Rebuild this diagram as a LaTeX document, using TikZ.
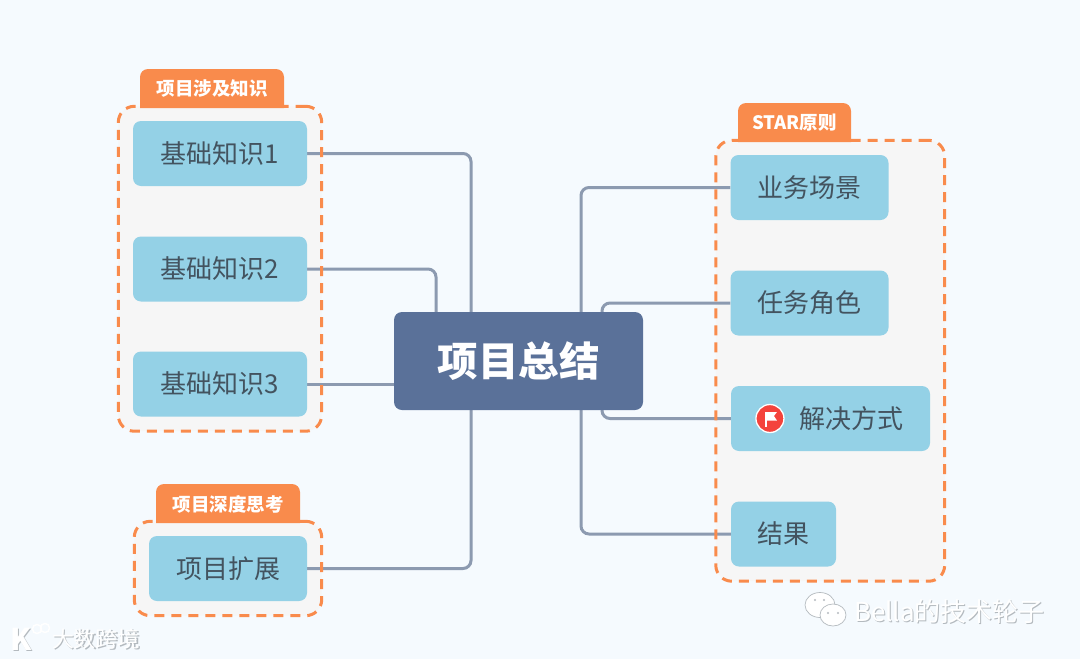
\documentclass[tikz,border=0pt]{standalone}
\usepackage{fontspec}
\setmainfont{Noto Sans CJK SC}
\usetikzlibrary{shapes.geometric, positioning, fit, backgrounds, calc}
\definecolor{pagebg}{HTML}{F5FAFE}
\definecolor{groupbg}{HTML}{F6F6F6}
\definecolor{accent}{HTML}{F98B4C}
\definecolor{topicbg}{HTML}{94D1E6}
\definecolor{topicfg}{HTML}{43535F}
\definecolor{rootbg}{HTML}{5A7199}
\definecolor{linkc}{HTML}{8C9AB0}
\definecolor{flagred}{HTML}{F4433C}
\definecolor{stampc}{HTML}{B4BABF}

\begin{document}
\begin{tikzpicture}[x=1pt, y=-1pt]
\tikzset{
    root/.style={rectangle, fill=rootbg, rounded corners=8pt, minimum width=249pt, minimum height=98pt, inner sep=0pt, text=white, font=\fontsize{40.5}{46}\selectfont\bfseries},
    topic/.style={rectangle, fill=topicbg, rounded corners=8pt, minimum width=174pt, minimum height=65pt, inner sep=0pt, text=topicfg, font=\fontsize{26}{30}\selectfont},
    groupbox/.style={rectangle, fill=groupbg, rounded corners=16pt, inner sep=14.5pt, outer sep=0pt},
    groupline/.style={rectangle, draw=accent, line width=3pt, dash pattern=on 10pt off 7pt, rounded corners=16pt, inner sep=0pt, outer sep=0pt},
    tabtext/.style={rectangle, minimum height=38pt, inner sep=0pt, text=white, font=\fontsize{18.5}{22}\selectfont\bfseries},
    tabfill/.style={fill=accent},
    link/.style={draw=linkc, line width=3pt, rounded corners=8pt},
    flagdot/.style={circle, fill=flagred, draw=white, line width=1.3pt, minimum size=28pt, inner sep=0pt},
    stamp/.style={inner sep=0pt, text=white, font=\fontsize{#1}{30}\selectfont},
    stampback/.style={inner sep=0pt, text=stampc, font=\fontsize{#1}{30}\selectfont},
    bubble/.style={ellipse, fill=white, draw=stampc, line width=0.7pt}
}
\node[root] (Root) at (518.5, 361) {项目总结};
\node[topic] (Know1) at (220, 153.5) {基础知识1};
\node[topic] (Know2) at (220, 269) {基础知识2};
\node[topic] (Know3) at (220, 384) {基础知识3};
\node[topic, minimum width=158pt] (Extend) at (228, 568.5) {项目扩展};
\node[topic, minimum width=158pt] (Scene) at (809.5, 187.5) {业务场景};
\node[topic, minimum width=158pt] (Role) at (809.5, 303) {任务角色};
\node[topic, minimum width=199pt] (Solve) at (830.5, 418.5) {\hspace{41pt}解决方式};
\node[topic, minimum width=105pt] (Outcome) at (783.5, 534) {结果};
\node[flagdot, right=24.5pt of Solve.west] (Flag) {};
\fill[white] ($(Flag)+(-5,-7)$) rectangle ($(Flag)+(-3,8)$);
\fill[white] ($(Flag)+(-3,-6.5)$) -- ($(Flag)+(7,-6.5)$) -- ($(Flag)+(4,-2.5)$) -- ($(Flag)+(7,2)$) -- ($(Flag)+(-3,2)$) -- cycle;
\begin{pgfonlayer}{background}
\fill[pagebg] (0, 0) rectangle (1080, 659);
\node[groupbox, fit=(Know1)(Know3)] (GroupBase) {};
\node[groupbox, fit=(Extend)] (GroupExt) {};
\node[groupbox, fit=(Scene)(Solve)(Outcome)] (GroupStar) {};
\draw[link] (Know1.east) -| ([xshift=-47.5pt]Root.north);
\draw[link] (Know2.east) -| ([xshift=-82.5pt]Root.north);
\draw[link] (Know3.east) -- (Know3.east -| Root.west);
\draw[link] (Extend.east) -| ([xshift=-47.5pt]Root.south);
\draw[link] (Scene.west) -| ([xshift=62.5pt]Root.north);
\draw[link] (Role.west) -| ([xshift=83.5pt]Root.north);
\draw[link] (Solve.west) -| ([xshift=83.5pt]Root.south);
\draw[link] (Outcome.west) -| ([xshift=62.5pt]Root.south);
\foreach \grp in {GroupBase, GroupExt, GroupStar}
    \node[groupline, fit=(\grp)] (\grp Line) {};
\end{pgfonlayer}
\fill[tabfill] (140, 108) [rounded corners=8pt] -- (140, 69) -- (284, 69) [sharp corners] -- (284, 108) -- cycle;
\fill[tabfill] (156, 523) [rounded corners=8pt] -- (156, 484) -- (300, 484) [sharp corners] -- (300, 523) -- cycle;
\fill[tabfill] (738, 142) [rounded corners=8pt] -- (738, 103) -- (851, 103) [sharp corners] -- (851, 142) -- cycle;
\node[tabtext] (TabBase) at (212, 89) {项目涉及知识};
\node[tabtext] (TabExt) at (228, 504) {项目深度思考};
\node[tabtext] (TabStar) at (794.5, 123) {STAR原则};
\node[stampback=26] (BellaBack) at (950.5, 612.5) {Bella的技术轮子};
\node[stamp=26] (Bella) at (949.5, 611.5) {Bella的技术轮子};
\node[stampback=22] (BigDataBack) at (97, 640.5) {大数跨境};
\node[stamp=22] (BigData) at (96, 639.5) {大数跨境};
\node[bubble, minimum width=30pt, minimum height=25pt, inner sep=0pt] (ChatA) at (820, 605) {};
\node[bubble, minimum width=26pt, minimum height=22pt, inner sep=0pt] (ChatB) at (833, 615) {};
\fill[stampc] (815, 600) circle (1.2) (824, 600) circle (1.2) (828, 613) circle (1.1) (838, 613) circle (1.1);
\node[stampback=30, font=\fontsize{30}{30}\selectfont\bfseries] (LogoBack) at (22, 640) {K};
\node[stamp=30, font=\fontsize{30}{30}\selectfont\bfseries] (Logo) at (21, 639) {K};
\node[circle, draw=white, line width=1.5pt, minimum size=9pt, inner sep=0pt] (LogoA) at (37, 629) {};
\node[circle, draw=white, line width=1.5pt, minimum size=9pt, inner sep=0pt] (LogoB) at (45, 628) {};
\end{tikzpicture}
\end{document}
